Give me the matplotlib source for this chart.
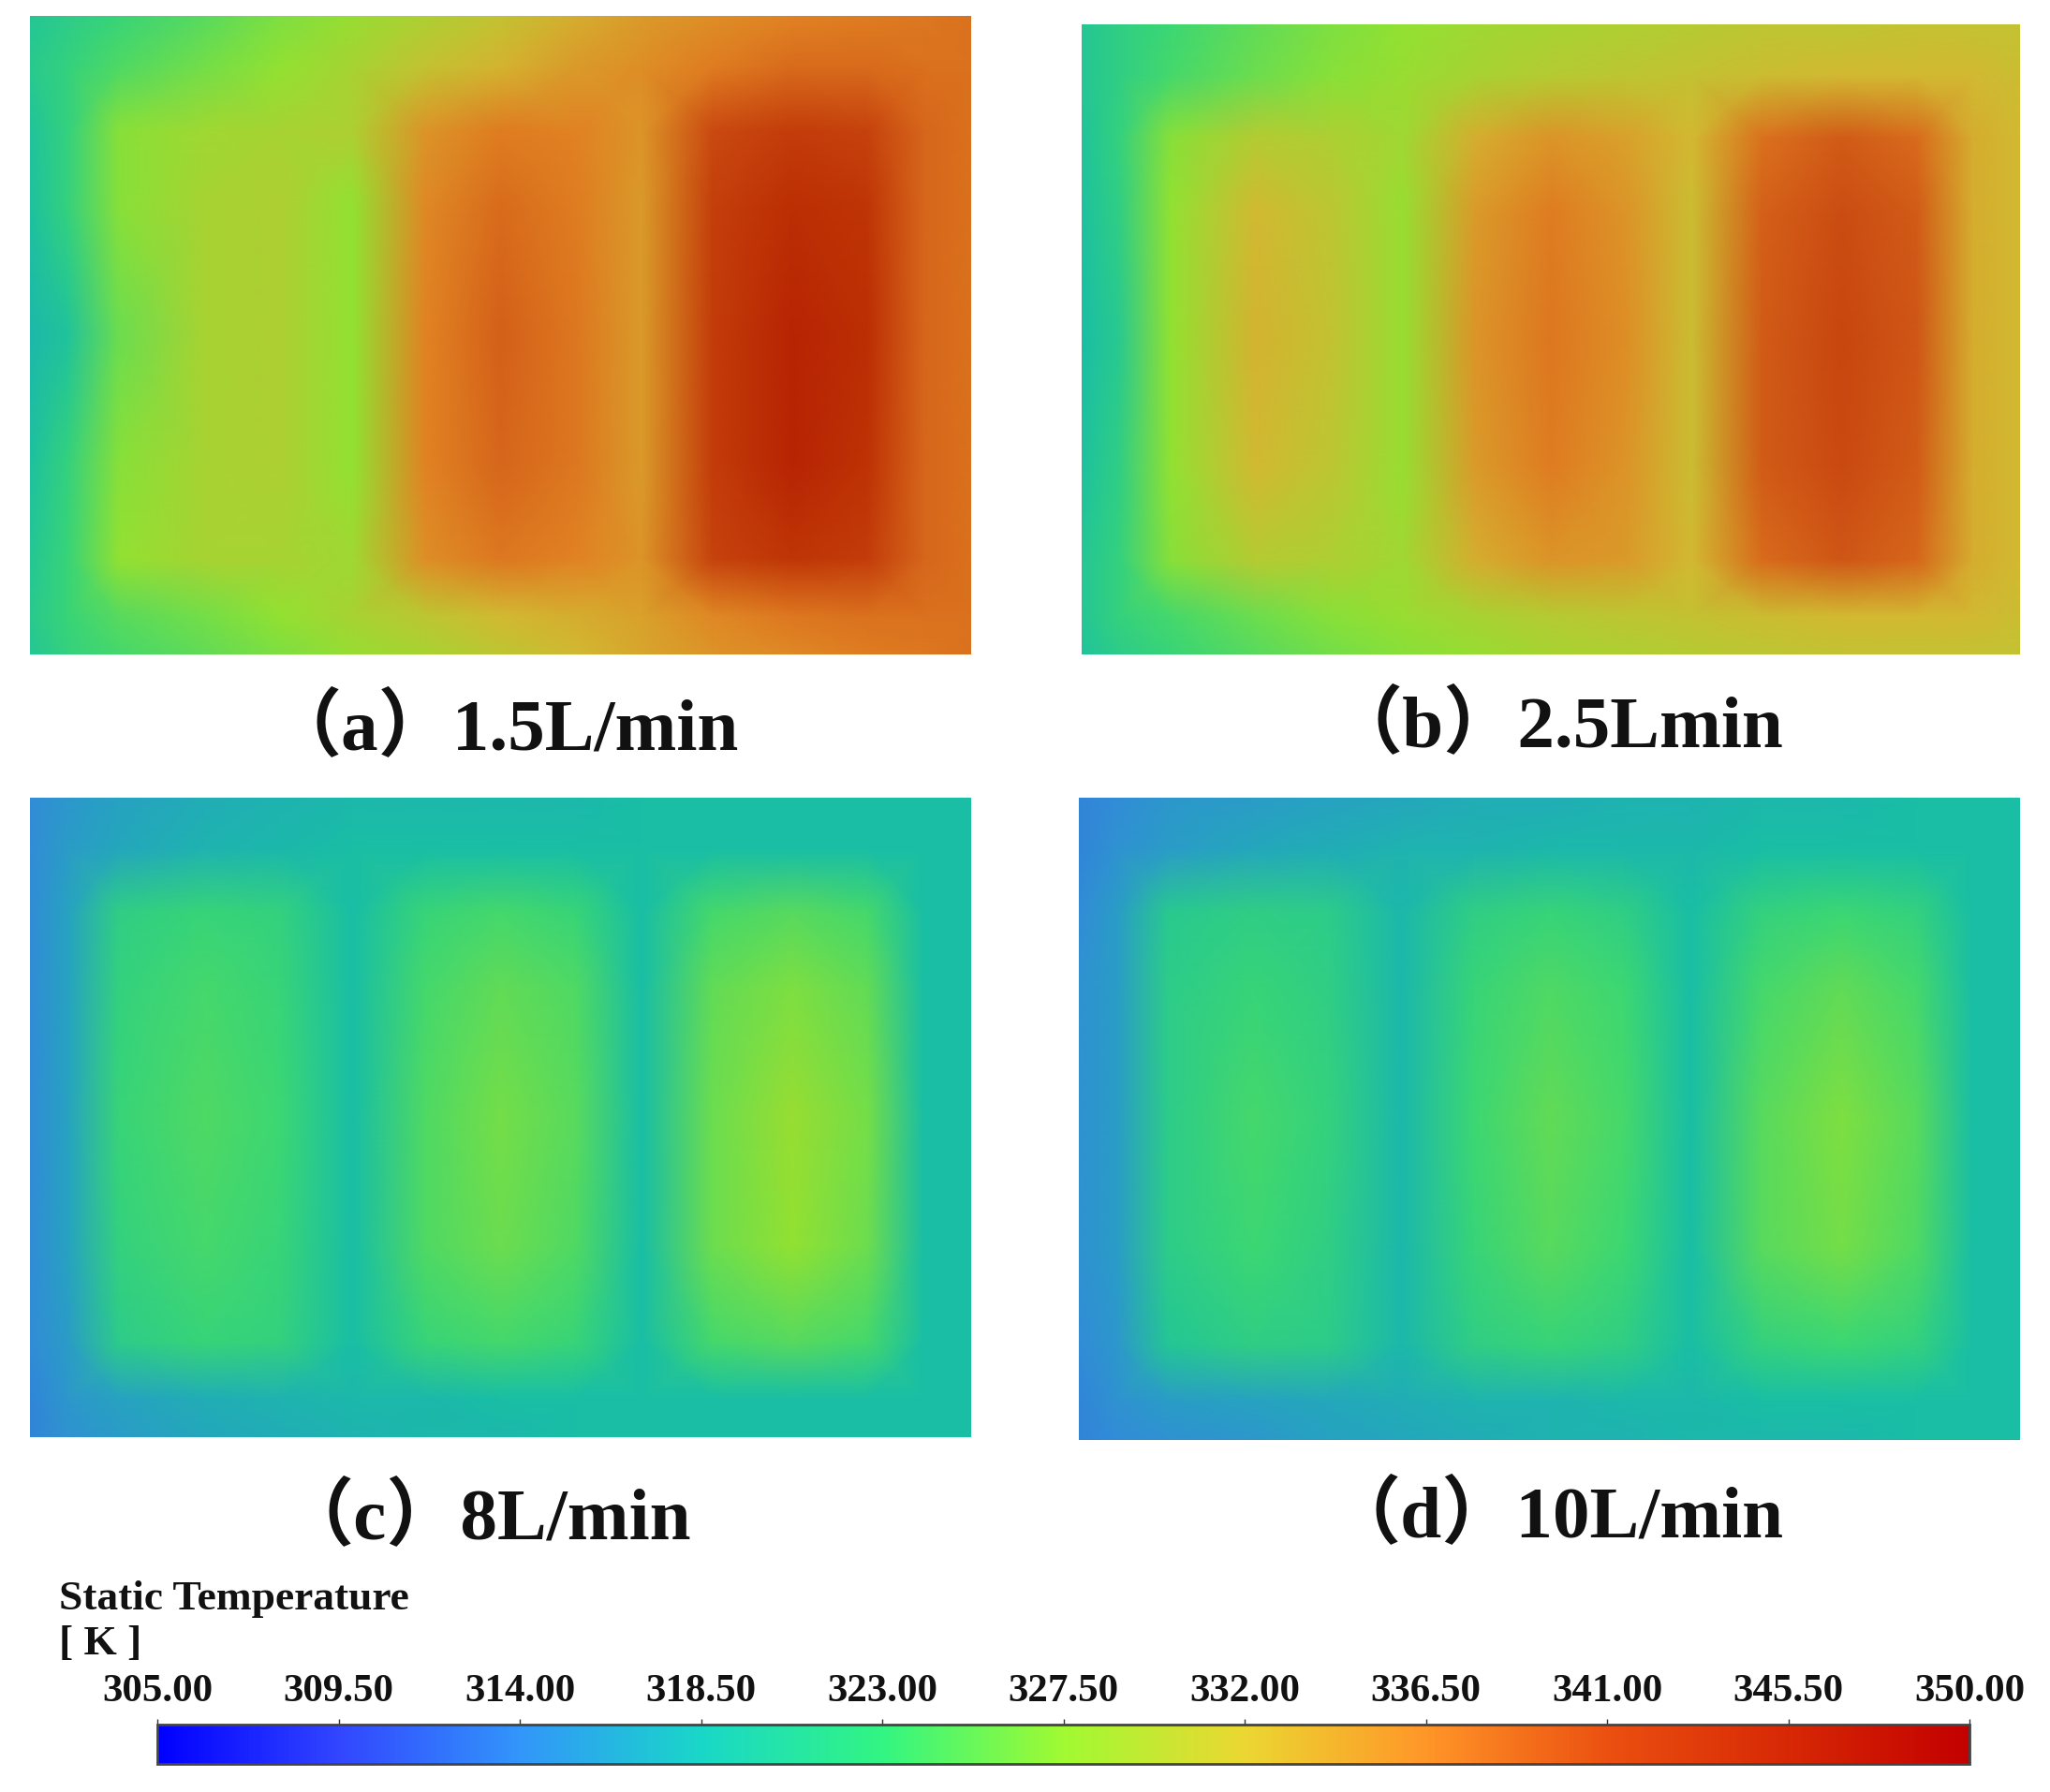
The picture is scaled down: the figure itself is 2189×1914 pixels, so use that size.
import numpy as np
import matplotlib
matplotlib.use("Agg")
import matplotlib.pyplot as plt
from matplotlib.colors import LinearSegmentedColormap, Normalize
from matplotlib.cm import ScalarMappable

W, H = 2189, 1914
T_MIN, T_MAX = 305.0, 350.0
TICKS = [305.0, 309.5, 314.0, 318.5, 323.0, 327.5, 332.0, 336.5, 341.0, 345.5, 350.0]

# fractions across / down a panel where the temperatures were read
XS = [0, .04, .095, .185, .265, .343, .42, .50, .58, .65, .725, .81, .89, .95, 1]
YS = [0, .08, .18, .30, .50, .70, .85, .94, 1]

TEMP_A = [
    [320.0, 321.0, 322.5, 324.5, 326.5, 328.0, 329.5, 331.0, 333.0, 334.5, 335.5, 336.5, 337.0, 337.5, 338.0],
    [320.5, 322.0, 324.0, 326.0, 327.5, 329.0, 331.0, 332.5, 334.5, 335.5, 337.0, 338.5, 338.5, 338.0, 338.0],
    [319.5, 322.0, 327.0, 328.5, 329.0, 329.5, 335.0, 337.0, 336.5, 335.0, 342.0, 344.0, 343.0, 339.0, 338.0],
    [319.0, 322.0, 327.0, 329.0, 329.5, 327.5, 336.0, 338.5, 337.0, 334.5, 343.5, 346.0, 345.0, 339.0, 338.0],
    [318.0, 319.5, 325.5, 329.0, 329.5, 327.5, 336.5, 339.5, 337.5, 334.5, 344.0, 347.5, 346.0, 339.0, 338.0],
    [319.0, 322.0, 327.0, 329.0, 329.5, 327.5, 336.5, 339.0, 337.5, 334.5, 344.0, 347.5, 345.5, 339.0, 338.0],
    [320.0, 322.5, 327.5, 329.0, 329.0, 328.5, 335.5, 337.5, 336.5, 335.0, 343.0, 345.0, 344.0, 339.0, 338.0],
    [320.5, 322.5, 324.5, 326.0, 327.5, 329.0, 330.5, 332.0, 333.0, 334.0, 336.0, 337.5, 338.0, 338.0, 338.0],
    [320.0, 322.0, 323.5, 325.0, 326.5, 328.0, 329.0, 330.5, 332.0, 333.5, 335.0, 336.0, 337.0, 337.5, 338.0],
]
TEMP_B = [
    [320.0, 321.5, 323.0, 325.0, 326.5, 327.5, 328.5, 329.0, 329.5, 330.0, 330.5, 330.5, 331.0, 331.0, 331.0],
    [320.0, 321.5, 323.5, 325.5, 327.0, 328.0, 329.0, 330.0, 330.5, 331.0, 331.5, 332.0, 332.0, 332.0, 331.5],
    [319.5, 322.0, 327.0, 330.0, 329.5, 328.5, 333.0, 335.0, 334.0, 332.0, 338.0, 340.0, 338.5, 333.0, 332.0],
    [319.0, 321.5, 327.5, 332.0, 330.5, 328.0, 334.5, 337.0, 335.0, 331.5, 339.5, 341.5, 340.0, 333.0, 332.0],
    [318.5, 320.5, 327.5, 332.5, 331.0, 328.0, 335.0, 337.5, 335.5, 331.5, 340.0, 342.5, 340.5, 333.0, 332.0],
    [319.0, 321.5, 327.5, 332.0, 330.5, 328.0, 334.5, 337.0, 335.0, 331.5, 340.0, 342.0, 340.0, 333.0, 332.0],
    [320.0, 322.0, 327.0, 330.0, 329.5, 328.5, 333.0, 335.0, 334.5, 332.0, 338.5, 340.5, 339.0, 333.0, 332.0],
    [320.0, 322.0, 323.5, 325.5, 327.0, 328.0, 329.0, 330.0, 330.5, 331.0, 331.5, 332.0, 332.0, 332.0, 331.5],
    [319.5, 321.0, 322.5, 324.5, 326.0, 327.0, 328.0, 329.0, 329.5, 330.0, 330.5, 331.0, 331.0, 331.0, 331.0],
]
TEMP_C = [
    [314.0, 315.0, 316.0, 317.0, 317.5, 318.0, 318.0, 318.0, 318.0, 318.5, 318.5, 318.5, 318.5, 318.5, 318.5],
    [314.0, 315.5, 316.5, 317.5, 318.0, 318.5, 318.5, 318.5, 318.5, 318.5, 318.5, 318.5, 318.5, 318.5, 318.5],
    [314.0, 316.0, 321.5, 322.5, 322.0, 318.5, 322.5, 323.5, 322.5, 318.5, 323.5, 324.5, 323.5, 318.5, 318.5],
    [314.0, 316.0, 322.0, 323.5, 322.5, 318.5, 323.5, 325.0, 324.0, 318.5, 325.0, 326.5, 325.0, 318.5, 318.5],
    [314.0, 316.0, 322.5, 324.0, 323.0, 318.5, 324.0, 326.0, 324.5, 318.5, 325.5, 328.0, 326.0, 318.5, 318.5],
    [314.0, 316.0, 322.0, 323.5, 322.5, 318.5, 324.0, 325.5, 324.0, 318.5, 325.5, 327.5, 325.5, 318.5, 318.5],
    [314.0, 315.5, 321.0, 322.5, 322.0, 318.5, 322.5, 323.5, 322.5, 318.5, 323.5, 324.5, 323.5, 318.5, 318.5],
    [313.5, 315.0, 316.0, 317.0, 317.5, 318.0, 318.0, 318.5, 318.5, 318.5, 318.5, 318.5, 318.5, 318.5, 318.5],
    [313.5, 314.5, 315.5, 316.5, 317.0, 317.5, 318.0, 318.0, 318.5, 318.5, 318.5, 318.5, 318.5, 318.5, 318.5],
]
TEMP_D = [
    [313.5, 314.0, 315.0, 315.5, 316.0, 316.5, 317.0, 317.0, 317.5, 317.5, 318.0, 318.0, 318.5, 318.5, 318.5],
    [313.5, 314.5, 315.5, 316.5, 317.0, 317.5, 317.5, 318.0, 318.0, 318.0, 318.5, 318.5, 318.5, 318.5, 318.5],
    [314.0, 315.5, 320.5, 321.5, 321.0, 318.0, 321.5, 322.5, 321.5, 318.5, 322.0, 323.0, 322.0, 318.5, 318.5],
    [314.5, 315.5, 321.0, 322.5, 321.5, 318.0, 322.5, 324.0, 323.0, 318.5, 323.5, 325.0, 323.5, 318.5, 318.5],
    [314.5, 315.5, 321.0, 323.5, 322.0, 318.0, 323.0, 325.0, 323.5, 318.5, 324.5, 326.5, 324.5, 318.5, 318.5],
    [314.5, 315.5, 321.0, 323.0, 321.5, 318.0, 322.5, 324.5, 323.0, 318.5, 324.5, 326.0, 324.0, 318.5, 318.5],
    [314.0, 315.0, 320.0, 321.5, 321.0, 318.0, 321.5, 322.5, 321.5, 318.5, 322.0, 323.0, 322.0, 318.5, 318.5],
    [313.5, 314.5, 315.5, 316.0, 316.5, 317.0, 317.5, 317.5, 318.0, 318.0, 318.5, 318.5, 318.5, 318.5, 318.5],
    [313.5, 314.0, 314.5, 315.0, 316.0, 316.5, 317.0, 317.5, 317.5, 318.0, 318.0, 318.0, 318.5, 318.5, 318.5],
]
CAPTIONS = ["（a）1.5L/min", "（b）2.5Lmin", "（c）8L/min", "（d）10L/min"]

# colours, same spacing as TICKS
BAR_COLORS = ["#0000ff", "#3246ff", "#3296fa", "#19d7c8", "#32f582", "#a0fa32",
              "#ebd732", "#ff9628", "#eb5010", "#d72805", "#c30000"]
# the panels in the picture are duller than the bar
PANEL_COLORS = ["#1e1ee0", "#2d50e0", "#328cd7", "#19bea5", "#3cd773", "#91e132",
                "#d2b932", "#e18223", "#cd5014", "#be3205", "#af1400"]

# panel boxes in pixels: left, top, right, bottom
BOXES = [(32, 17, 1037, 699), (1155, 26, 2157, 699), (32, 852, 1037, 1535), (1152, 852, 2157, 1538)]
CAPTION_POS = [(537, 780), (1661, 777), (518, 1623), (1661, 1621)]

plt.rcParams["font.family"] = ["Liberation Serif", "Noto Sans CJK SC"]
plt.rcParams["font.weight"] = "bold"
bar_cmap = LinearSegmentedColormap.from_list("ansys_bar", BAR_COLORS, N=512)
panel_cmap = LinearSegmentedColormap.from_list("ansys_panel", PANEL_COLORS, N=512)
norm = Normalize(T_MIN, T_MAX)


def px_axes(fig, box):
    l, t, r, b = box
    return fig.add_axes([l / W, 1 - b / H, (r - l) / W, (b - t) / H])


def main():
    fig = plt.figure(figsize=(W / 100, H / 100), dpi=100)
    for box, temp, cap, pos in zip(BOXES, [TEMP_A, TEMP_B, TEMP_C, TEMP_D], CAPTIONS, CAPTION_POS):
        ax = px_axes(fig, box)
        ax.pcolormesh(XS, YS, np.array(temp), cmap=panel_cmap, norm=norm, shading="gouraud", rasterized=True)
        ax.set_xlim(0, 1)
        ax.set_ylim(1, 0)
        ax.axis("off")
        fig.text(pos[0] / W, 1 - pos[1] / H, cap, fontsize=57, ha="center", va="center", color="#111111")

    # legend bar with ticks on top
    cax = px_axes(fig, (168, 1842, 2103, 1884))
    cb = fig.colorbar(ScalarMappable(norm=norm, cmap=bar_cmap), cax=cax, orientation="horizontal")
    cb.set_ticks(TICKS)
    cb.ax.xaxis.set_ticks_position("top")
    cb.ax.set_xticklabels([f"{t:.2f}" for t in TICKS], fontsize=31, color="#111111")
    cb.ax.tick_params(axis="x", length=4, width=1, pad=7.5, color="#333333")
    cb.outline.set_edgecolor("#444444")
    cb.outline.set_linewidth(2)

    fig.text(63 / W, 1 - 1708 / H, "Static Temperature", fontsize=32.7, va="center", color="#111111")
    fig.text(63 / W, 1 - 1756 / H, "[ K ]", fontsize=32.7, va="center", color="#111111")

    fig.savefig("out.png", dpi=100)


if __name__ == "__main__":
    main()
